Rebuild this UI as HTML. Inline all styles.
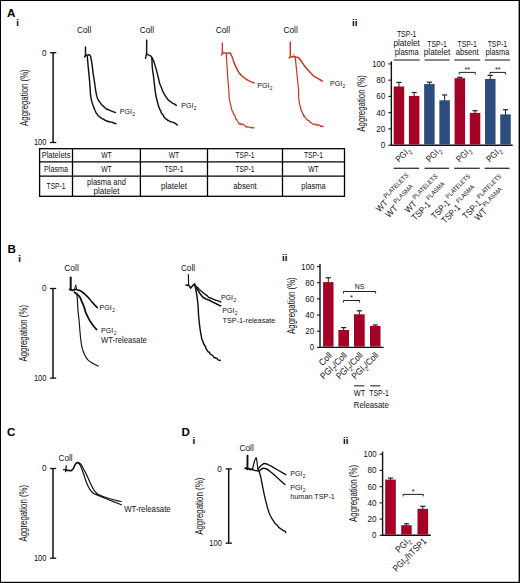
<!DOCTYPE html>
<html><head><meta charset="utf-8"><title>Figure</title>
<style>
html,body{margin:0;padding:0;background:#fff;}
body{width:520px;height:583px;overflow:hidden;}
svg{display:block;}
text{font-family:"Liberation Sans", sans-serif;}
</style></head>
<body>
<svg width="520" height="583" viewBox="0 0 520 583" font-family="Liberation Sans, sans-serif">
<rect width="520" height="583" fill="#fff"/>
<text x="7.0" y="16.9" font-size="11.6" text-anchor="start" font-weight="bold" fill="#000" >A</text>
<text x="16.2" y="26.0" font-size="9.6" text-anchor="start" font-weight="bold" fill="#000" >i</text>
<text x="352.0" y="25.8" font-size="9.6" text-anchor="start" font-weight="bold" fill="#000" >ii</text>
<text x="7.6" y="253.4" font-size="11.6" text-anchor="start" font-weight="bold" fill="#000" >B</text>
<text x="18.3" y="261.6" font-size="9.6" text-anchor="start" font-weight="bold" fill="#000" >i</text>
<text x="282.0" y="261.2" font-size="9.6" text-anchor="start" font-weight="bold" fill="#000" >ii</text>
<text x="7.0" y="435.8" font-size="11.6" text-anchor="start" font-weight="bold" fill="#000" >C</text>
<text x="181.6" y="435.8" font-size="11.6" text-anchor="start" font-weight="bold" fill="#000" >D</text>
<text x="192.6" y="444.3" font-size="9.6" text-anchor="start" font-weight="bold" fill="#000" >i</text>
<text x="343.0" y="443.9" font-size="9.6" text-anchor="start" font-weight="bold" fill="#000" >ii</text>
<line x1="53.1" y1="52.7" x2="53.1" y2="142.5" stroke="#111" stroke-width="1.5"/>
<line x1="50.1" y1="52.7" x2="56.300000000000004" y2="52.7" stroke="#111" stroke-width="1.3"/>
<line x1="50.1" y1="142.5" x2="56.300000000000004" y2="142.5" stroke="#111" stroke-width="1.3"/>
<text x="46.5" y="55.5" font-size="8.2" text-anchor="end" font-weight="normal" fill="#111" >0</text>
<text x="46.5" y="145.3" font-size="8.2" text-anchor="end" font-weight="normal" fill="#111" textLength="12.6" lengthAdjust="spacingAndGlyphs" >100</text>
<text x="0" y="0" font-size="10.0" text-anchor="middle" fill="#111" textLength="56.6" lengthAdjust="spacingAndGlyphs" transform="translate(27.6,97.6) rotate(-90)">Aggregation (%)</text>
<text x="76.9" y="32.7" font-size="8.2" text-anchor="start" font-weight="normal" fill="#111" textLength="14.4" lengthAdjust="spacingAndGlyphs" >Coll</text>
<text x="139.7" y="32.8" font-size="8.2" text-anchor="start" font-weight="normal" fill="#111" textLength="14.4" lengthAdjust="spacingAndGlyphs" >Coll</text>
<text x="215.7" y="33.2" font-size="8.2" text-anchor="start" font-weight="normal" fill="#111" textLength="14.4" lengthAdjust="spacingAndGlyphs" >Coll</text>
<text x="283.4" y="33.0" font-size="8.2" text-anchor="start" font-weight="normal" fill="#111" textLength="14.4" lengthAdjust="spacingAndGlyphs" >Coll</text>
<path d="M85.50,46.90 L85.50,55.80" fill="none" stroke="#111" stroke-width="1.45" stroke-linejoin="round" stroke-linecap="round" />
<path d="M84.60,57.00 L85.70,55.20 L89.40,54.80 L90.60,56.40" fill="none" stroke="#111" stroke-width="1.45" stroke-linejoin="round" stroke-linecap="round" />
<path d="M87.30,56.40 L87.39,57.50 L87.52,59.00 L87.68,60.78 L87.76,61.74 L87.84,62.74 L87.93,63.74 L88.02,64.75 L88.11,65.74 L88.20,66.70 L88.29,67.66 L88.39,68.66 L88.49,69.68 L88.59,70.73 L88.70,71.78 L88.81,72.85 L88.91,73.92 L89.02,74.97 L89.12,76.02 L89.22,77.04 L89.31,78.04 L89.40,79.00 L89.48,79.94 L89.56,80.87 L89.63,81.79 L89.70,82.69 L89.84,84.46 L89.96,86.16 L90.08,87.78 L90.20,89.30 L90.30,90.69 L90.37,91.94 L90.43,93.11 L90.51,94.25 L90.63,95.39 L90.80,96.60 L91.02,97.84 L91.26,99.08 L91.54,100.32 L91.87,101.60 L92.25,102.92 L92.70,104.30 L93.24,105.82 L93.86,107.49 L94.19,108.34 L94.53,109.19 L94.95,110.29 L95.54,111.56 L96.24,113.28 L97.01,113.87 L97.47,114.77 L98.09,115.62 L99.09,116.25 L99.95,117.08 L101.10,117.97 L102.00,118.54 L102.70,118.94 L103.54,118.98 L104.40,119.90 L105.57,120.50 L106.64,120.80 L107.75,121.49 L108.88,121.55 L109.99,121.97 L111.08,122.10 L112.02,122.29 L112.97,122.57 L114.00,123.25 L115.02,123.20 L115.74,123.83 L115.87,123.74" fill="none" stroke="#111" stroke-width="1.45" stroke-linejoin="round" stroke-linecap="round"/>
<path d="M90.60,56.80 L90.84,57.91 L91.05,58.92 L91.30,60.08 L91.55,61.36 L91.79,62.71 L92.00,64.12 L92.21,65.70 L92.41,67.42 L92.61,69.19 L92.80,70.92 L93.00,72.55 L93.20,73.99 L93.39,75.25 L93.58,76.40 L93.78,77.52 L93.98,78.69 L94.19,79.98 L94.41,81.48 L94.65,83.19 L94.77,84.10 L94.90,85.04 L95.03,85.98 L95.15,86.92 L95.28,87.85 L95.41,88.76 L95.67,90.44 L95.93,91.91 L96.18,93.25 L96.42,94.48 L96.68,95.62 L96.95,96.67 L97.24,97.64 L97.56,98.53 L98.09,99.63 L98.65,100.53 L99.26,101.39 L99.93,102.32 L100.65,103.30 L101.37,104.43 L102.31,105.29 L103.07,106.11 L103.93,106.68 L104.99,107.80 L105.91,108.67 L106.95,109.29 L108.17,109.52 L109.29,110.05 L110.50,110.65 L111.64,111.01 L112.84,111.70 L114.05,111.89 L115.06,112.44 L115.49,112.61" fill="none" stroke="#111" stroke-width="1.45" stroke-linejoin="round" stroke-linecap="round"/>
<text x="119.8" y="114.3" font-size="7.9" text-anchor="start" fill="#111" textLength="15.3" lengthAdjust="spacingAndGlyphs" >PGI<tspan font-size="5.5" dy="2.0" dx="0.4">2</tspan></text>
<path d="M146.70,40.10 L146.60,54.50" fill="none" stroke="#111" stroke-width="1.45" stroke-linejoin="round" stroke-linecap="round" />
<path d="M145.50,58.20 L146.50,53.90 L148.20,54.90 L151.10,56.20 L151.90,57.80" fill="none" stroke="#111" stroke-width="1.45" stroke-linejoin="round" stroke-linecap="round" />
<path d="M151.90,57.80 L151.93,58.84 L151.97,60.28 L152.03,61.99 L152.06,62.90 L152.09,63.82 L152.13,64.74 L152.24,66.50 L152.37,68.07 L152.55,69.63 L152.76,71.19 L152.99,72.72 L153.21,74.20 L153.41,75.62 L153.58,76.94 L153.71,78.10 L153.83,79.16 L153.94,80.20 L154.07,81.32 L154.21,82.58 L154.39,84.07 L154.57,85.75 L154.76,87.57 L154.87,88.51 L154.98,89.47 L155.10,90.44 L155.23,91.41 L155.37,92.39 L155.53,93.35 L155.70,94.30 L155.89,95.26 L156.09,96.24 L156.30,97.24 L156.53,98.25 L156.76,99.26 L157.01,100.27 L157.26,101.28 L157.52,102.26 L157.78,103.23 L158.05,104.16 L158.22,104.84 L158.75,106.96 L159.40,107.93 L160.04,110.10 L160.78,110.87 L161.23,112.74 L161.99,113.72 L162.52,114.23 L163.37,115.55 L163.91,116.89 L164.76,117.57 L165.31,118.34 L165.97,119.01 L166.98,119.43 L167.83,120.66 L168.54,120.52 L169.42,121.11 L170.18,121.46 L171.07,121.76 L172.07,122.08 L173.15,122.37 L174.11,122.78 L174.85,123.10 L175.61,123.59 L176.82,124.77 L177.42,125.18" fill="none" stroke="#111" stroke-width="1.45" stroke-linejoin="round" stroke-linecap="round"/>
<path d="M151.90,57.80 L152.43,58.62 L153.03,59.65 L153.50,60.70 L153.82,61.58 L154.17,62.60 L154.52,63.72 L154.89,64.90 L155.25,66.11 L155.60,67.30 L155.94,68.47 L156.27,69.66 L156.60,70.88 L156.93,72.11 L157.26,73.39 L157.60,74.70 L157.95,76.11 L158.30,77.63 L158.66,79.18 L159.02,80.69 L159.37,82.09 L159.70,83.30 L160.02,84.28 L160.46,85.45 L160.90,86.42 L161.34,87.42 L161.80,88.58 L162.23,89.77 L162.70,90.99 L163.07,91.83 L163.50,92.70 L164.01,93.64 L164.59,94.64 L165.22,95.67 L165.87,96.69 L166.54,97.64 L167.14,98.51 L167.87,99.46 L168.64,100.16 L169.32,100.85 L170.04,101.32 L170.95,101.69 L171.80,102.50 L172.80,103.33 L173.79,103.63 L174.64,104.21 L175.43,104.45 L176.25,105.57 L176.30,105.52" fill="none" stroke="#111" stroke-width="1.45" stroke-linejoin="round" stroke-linecap="round"/>
<text x="181.2" y="107.6" font-size="7.9" text-anchor="start" fill="#111" textLength="15.3" lengthAdjust="spacingAndGlyphs" >PGI<tspan font-size="5.5" dy="2.0" dx="0.4">2</tspan></text>
<path d="M222.3,42.6 L222.0,52.8 L222.7,52.8 Z" fill="#c8341f" stroke="#c8341f" stroke-width="0.9" stroke-linejoin="round"/>
<path d="M221.40,54.90 L222.80,52.90 L230.20,53.30" fill="none" stroke="#c8341f" stroke-width="1.45" stroke-linejoin="round" stroke-linecap="round" />
<path d="M226.30,53.70 L226.37,55.00 L226.47,56.77 L226.53,57.79 L226.59,58.88 L226.66,60.02 L226.73,61.19 L226.79,62.36 L226.86,63.54 L226.93,64.69 L227.00,65.80 L227.07,66.91 L227.14,68.05 L227.21,69.23 L227.29,70.43 L227.36,71.65 L227.44,72.86 L227.51,74.07 L227.59,75.27 L227.67,76.44 L227.75,77.57 L227.82,78.66 L227.90,79.70 L227.98,80.69 L228.06,81.66 L228.14,82.59 L228.22,83.50 L228.38,85.24 L228.54,86.89 L228.68,88.48 L228.80,90.00 L228.89,91.45 L228.94,92.82 L228.98,94.11 L229.03,95.35 L229.09,96.54 L229.20,97.70 L229.35,98.81 L229.53,99.85 L229.73,100.84 L229.95,101.82 L230.17,102.80 L230.40,103.80 L230.63,104.85 L230.86,105.92 L231.11,106.99 L231.30,108.78 L231.81,109.56 L231.96,110.66 L232.40,110.94 L232.74,111.31 L233.23,113.05 L233.74,114.45 L234.07,114.65 L234.96,115.96 L235.35,117.47 L235.89,119.22 L236.84,119.53 L237.30,120.68 L237.89,121.83 L238.39,122.32 L239.19,124.13 L240.17,123.43 L241.27,124.95 L241.97,123.89 L242.78,124.25 L243.83,124.74 L244.77,125.52 L245.91,126.98 L246.96,126.61 L247.75,127.13 L248.68,127.13 L249.47,127.27 L250.90,127.22 L251.78,128.15 L252.99,127.57 L253.69,127.70 L253.75,128.01" fill="none" stroke="#c8341f" stroke-width="1.2" stroke-linejoin="round" stroke-linecap="round"/>
<path d="M230.20,53.30 C230.50,53.83 231.38,55.03 232.00,56.50 C232.62,57.97 233.20,60.25 233.90,62.10 C234.60,63.95 235.28,65.75 236.20,67.60 C237.12,69.45 238.08,71.50 239.40,73.20 C240.72,74.90 242.40,76.48 244.10,77.80 C245.80,79.12 247.90,80.25 249.60,81.10 C251.30,81.95 253.52,82.60 254.30,82.90" fill="none" stroke="#c8341f" stroke-width="1.45" stroke-linejoin="round" stroke-linecap="round" />
<text x="257.2" y="87.9" font-size="7.9" text-anchor="start" fill="#111" textLength="15.3" lengthAdjust="spacingAndGlyphs" >PGI<tspan font-size="5.5" dy="2.0" dx="0.4">2</tspan></text>
<path d="M290.30,42.20 L290.30,56.50" fill="none" stroke="#c8341f" stroke-width="1.45" stroke-linejoin="round" stroke-linecap="round" />
<path d="M289.20,57.90 L290.60,56.50 L298.00,57.40" fill="none" stroke="#c8341f" stroke-width="1.45" stroke-linejoin="round" stroke-linecap="round" />
<path d="M292.80,56.80 L293.80,53.90 L294.80,56.80" fill="none" stroke="#c8341f" stroke-width="0.8" stroke-linejoin="round" stroke-linecap="round" stroke-opacity="0.6"/>
<path d="M295.20,56.50 L295.35,58.01 L295.45,59.00 L295.56,60.10 L295.68,61.31 L295.81,62.58 L295.95,63.90 L296.08,65.25 L296.22,66.60 L296.35,67.92 L296.48,69.20 L296.60,70.40 L296.72,71.58 L296.84,72.80 L296.97,74.04 L297.10,75.30 L297.22,76.56 L297.35,77.80 L297.47,79.02 L297.59,80.20 L297.71,81.33 L297.81,82.40 L297.91,83.39 L298.00,84.30 L298.15,85.82 L298.27,87.03 L298.38,88.03 L298.46,88.95 L298.53,89.90 L298.60,91.00 L298.64,92.23 L298.64,93.50 L298.64,94.79 L298.64,96.11 L298.69,97.45 L298.80,98.80 L298.98,100.19 L299.20,101.64 L299.47,103.10 L299.76,104.54 L300.08,105.92 L300.40,107.20 L300.81,109.01 L300.95,109.34 L301.36,111.20 L301.73,110.91 L302.10,112.34 L302.87,113.94 L303.22,114.97 L303.74,114.87 L303.87,116.50 L304.79,116.34 L305.47,117.83 L306.06,118.65 L306.69,118.97 L307.52,120.18 L308.69,120.57 L309.74,121.42 L310.25,122.76 L311.24,122.69 L311.73,123.18 L313.05,124.39 L314.10,124.08 L315.52,123.99 L316.46,125.41 L317.81,124.66 L318.42,124.92 L319.82,125.43 L320.79,126.55 L321.60,125.88 L323.03,126.61 L323.00,126.80" fill="none" stroke="#c8341f" stroke-width="1.2" stroke-linejoin="round" stroke-linecap="round"/>
<path d="M298.00,57.40 C298.45,57.87 299.63,58.80 300.70,60.20 C301.77,61.60 303.00,63.95 304.40,65.80 C305.80,67.65 307.55,69.60 309.10,71.30 C310.65,73.00 312.17,74.77 313.70,76.00 C315.23,77.23 316.83,77.85 318.30,78.70 C319.77,79.55 321.80,80.70 322.50,81.10" fill="none" stroke="#c8341f" stroke-width="1.45" stroke-linejoin="round" stroke-linecap="round" />
<text x="330.0" y="85.9" font-size="7.9" text-anchor="start" fill="#111" textLength="15.3" lengthAdjust="spacingAndGlyphs" >PGI<tspan font-size="5.5" dy="2.0" dx="0.4">2</tspan></text>
<rect x="39.6" y="148.7" width="304.9" height="47.60000000000002" fill="none" stroke="#000" stroke-width="1.3"/>
<line x1="72.5" y1="148.7" x2="72.5" y2="196.3" stroke="#000" stroke-width="1.3"/>
<line x1="140.4" y1="148.7" x2="140.4" y2="196.3" stroke="#000" stroke-width="1.3"/>
<line x1="207.5" y1="148.7" x2="207.5" y2="196.3" stroke="#000" stroke-width="1.3"/>
<line x1="282.5" y1="148.7" x2="282.5" y2="196.3" stroke="#000" stroke-width="1.3"/>
<line x1="39.6" y1="161.95" x2="344.5" y2="161.95" stroke="#000" stroke-width="1.3"/>
<line x1="39.6" y1="176.2" x2="344.5" y2="176.2" stroke="#000" stroke-width="1.3"/>
<text x="56.05" y="158.12" font-size="8.5" text-anchor="middle" font-weight="normal" fill="#111" textLength="28.8" lengthAdjust="spacingAndGlyphs" >Platelets</text>
<text x="56.05" y="171.88" font-size="8.5" text-anchor="middle" font-weight="normal" fill="#111" textLength="24.0" lengthAdjust="spacingAndGlyphs" >Plasma</text>
<text x="56.05" y="189.05" font-size="8.5" text-anchor="middle" font-weight="normal" fill="#111" textLength="19.0" lengthAdjust="spacingAndGlyphs" >TSP-1</text>
<text x="106.45" y="158.12" font-size="8.5" text-anchor="middle" font-weight="normal" fill="#111" textLength="10.5" lengthAdjust="spacingAndGlyphs" >WT</text>
<text x="173.95" y="158.12" font-size="8.5" text-anchor="middle" font-weight="normal" fill="#111" textLength="10.5" lengthAdjust="spacingAndGlyphs" >WT</text>
<text x="245.0" y="158.12" font-size="8.5" text-anchor="middle" font-weight="normal" fill="#111" textLength="19.0" lengthAdjust="spacingAndGlyphs" >TSP-1</text>
<text x="313.5" y="158.12" font-size="8.5" text-anchor="middle" font-weight="normal" fill="#111" textLength="19.0" lengthAdjust="spacingAndGlyphs" >TSP-1</text>
<text x="106.45" y="171.88" font-size="8.5" text-anchor="middle" font-weight="normal" fill="#111" textLength="10.5" lengthAdjust="spacingAndGlyphs" >WT</text>
<text x="173.95" y="171.88" font-size="8.5" text-anchor="middle" font-weight="normal" fill="#111" textLength="19.0" lengthAdjust="spacingAndGlyphs" >TSP-1</text>
<text x="245.0" y="171.88" font-size="8.5" text-anchor="middle" font-weight="normal" fill="#111" textLength="19.0" lengthAdjust="spacingAndGlyphs" >TSP-1</text>
<text x="313.5" y="171.88" font-size="8.5" text-anchor="middle" font-weight="normal" fill="#111" textLength="10.5" lengthAdjust="spacingAndGlyphs" >WT</text>
<text x="106.45" y="185.0" font-size="8.5" text-anchor="middle" font-weight="normal" fill="#111" textLength="38.8" lengthAdjust="spacingAndGlyphs" >plasma and</text>
<text x="106.45" y="193.6" font-size="8.5" text-anchor="middle" font-weight="normal" fill="#111" textLength="26.0" lengthAdjust="spacingAndGlyphs" >platelet</text>
<text x="173.95" y="188.55" font-size="8.5" text-anchor="middle" font-weight="normal" fill="#111" textLength="26.0" lengthAdjust="spacingAndGlyphs" >platelet</text>
<text x="245.0" y="188.55" font-size="8.5" text-anchor="middle" font-weight="normal" fill="#111" textLength="23.5" lengthAdjust="spacingAndGlyphs" >absent</text>
<text x="313.5" y="188.55" font-size="8.5" text-anchor="middle" font-weight="normal" fill="#111" textLength="24.5" lengthAdjust="spacingAndGlyphs" >plasma</text>
<line x1="391.35" y1="145.89999999999998" x2="391.35" y2="61.3" stroke="#111" stroke-width="1.4"/>
<line x1="390.65000000000003" y1="145.2" x2="512.7" y2="145.2" stroke="#111" stroke-width="1.4"/>
<line x1="388.35" y1="145.2" x2="391.35" y2="145.2" stroke="#111" stroke-width="1.1"/>
<text x="385.2" y="148.1" font-size="8.2" text-anchor="end" font-weight="normal" fill="#111" textLength="4.5" lengthAdjust="spacingAndGlyphs" >0</text>
<line x1="388.35" y1="128.94" x2="391.35" y2="128.94" stroke="#111" stroke-width="1.1"/>
<text x="385.2" y="131.84" font-size="8.2" text-anchor="end" font-weight="normal" fill="#111" textLength="9.0" lengthAdjust="spacingAndGlyphs" >20</text>
<line x1="388.35" y1="112.68" x2="391.35" y2="112.68" stroke="#111" stroke-width="1.1"/>
<text x="385.2" y="115.58000000000001" font-size="8.2" text-anchor="end" font-weight="normal" fill="#111" textLength="9.0" lengthAdjust="spacingAndGlyphs" >40</text>
<line x1="388.35" y1="96.41999999999999" x2="391.35" y2="96.41999999999999" stroke="#111" stroke-width="1.1"/>
<text x="385.2" y="99.32" font-size="8.2" text-anchor="end" font-weight="normal" fill="#111" textLength="9.0" lengthAdjust="spacingAndGlyphs" >60</text>
<line x1="388.35" y1="80.16000000000001" x2="391.35" y2="80.16000000000001" stroke="#111" stroke-width="1.1"/>
<text x="385.2" y="83.06000000000002" font-size="8.2" text-anchor="end" font-weight="normal" fill="#111" textLength="9.0" lengthAdjust="spacingAndGlyphs" >80</text>
<line x1="388.35" y1="63.900000000000006" x2="391.35" y2="63.900000000000006" stroke="#111" stroke-width="1.1"/>
<text x="385.2" y="66.80000000000001" font-size="8.2" text-anchor="end" font-weight="normal" fill="#111" textLength="13.0" lengthAdjust="spacingAndGlyphs" >100</text>
<text x="0" y="0" font-size="10.0" text-anchor="middle" fill="#111" textLength="56.6" lengthAdjust="spacingAndGlyphs" transform="translate(365.4,103.4) rotate(-90)">Aggregation (%)</text>
<rect x="393.70" y="86.50" width="10.50" height="58.00" fill="#a50026"/>
<line x1="398.95" y1="82.4" x2="398.95" y2="87.0" stroke="#222" stroke-width="1.0"/>
<line x1="396.34999999999997" y1="82.4" x2="401.55" y2="82.4" stroke="#222" stroke-width="1.2"/>
<rect x="408.92" y="95.90" width="10.50" height="48.60" fill="#a50026"/>
<line x1="414.17" y1="92.5" x2="414.17" y2="96.4" stroke="#222" stroke-width="1.0"/>
<line x1="411.57" y1="92.5" x2="416.77000000000004" y2="92.5" stroke="#222" stroke-width="1.2"/>
<rect x="424.14" y="84.10" width="10.50" height="60.40" fill="#2e4b7d"/>
<line x1="429.39" y1="82.2" x2="429.39" y2="84.6" stroke="#222" stroke-width="1.0"/>
<line x1="426.78999999999996" y1="82.2" x2="431.99" y2="82.2" stroke="#222" stroke-width="1.2"/>
<rect x="439.36" y="100.30" width="10.50" height="44.20" fill="#2e4b7d"/>
<line x1="444.61" y1="95.0" x2="444.61" y2="100.8" stroke="#222" stroke-width="1.0"/>
<line x1="442.01" y1="95.0" x2="447.21000000000004" y2="95.0" stroke="#222" stroke-width="1.2"/>
<rect x="454.58" y="78.20" width="10.50" height="66.30" fill="#a50026"/>
<line x1="459.83" y1="77.3" x2="459.83" y2="78.7" stroke="#222" stroke-width="1.0"/>
<line x1="457.22999999999996" y1="77.3" x2="462.43" y2="77.3" stroke="#222" stroke-width="1.2"/>
<rect x="469.80" y="112.90" width="10.50" height="31.60" fill="#a50026"/>
<line x1="475.05" y1="110.7" x2="475.05" y2="113.4" stroke="#222" stroke-width="1.0"/>
<line x1="472.45" y1="110.7" x2="477.65000000000003" y2="110.7" stroke="#222" stroke-width="1.2"/>
<rect x="485.02" y="79.00" width="10.50" height="65.50" fill="#2e4b7d"/>
<line x1="490.27" y1="75.4" x2="490.27" y2="79.5" stroke="#222" stroke-width="1.0"/>
<line x1="487.66999999999996" y1="75.4" x2="492.87" y2="75.4" stroke="#222" stroke-width="1.2"/>
<rect x="500.24" y="114.40" width="10.50" height="30.10" fill="#2e4b7d"/>
<line x1="505.49" y1="109.7" x2="505.49" y2="114.9" stroke="#222" stroke-width="1.0"/>
<line x1="502.89" y1="109.7" x2="508.09000000000003" y2="109.7" stroke="#222" stroke-width="1.2"/>
<line x1="393.7" y1="60.0" x2="419.6" y2="60.0" stroke="#555" stroke-width="1.4"/>
<line x1="424.5" y1="60.0" x2="449.6" y2="60.0" stroke="#555" stroke-width="1.4"/>
<line x1="454.2" y1="60.0" x2="480.2" y2="60.0" stroke="#555" stroke-width="1.4"/>
<line x1="484.7" y1="60.0" x2="510.1" y2="60.0" stroke="#555" stroke-width="1.4"/>
<text x="406.65" y="36.6" font-size="8.2" text-anchor="middle" font-weight="normal" fill="#111" textLength="19.5" lengthAdjust="spacingAndGlyphs" >TSP-1</text>
<text x="406.65" y="46.3" font-size="8.5" text-anchor="middle" font-weight="normal" fill="#111" textLength="26.5" lengthAdjust="spacingAndGlyphs" >platelet</text>
<text x="406.65" y="54.9" font-size="8.5" text-anchor="middle" font-weight="normal" fill="#111" textLength="24.0" lengthAdjust="spacingAndGlyphs" >plasma</text>
<text x="437.05" y="46.8" font-size="8.2" text-anchor="middle" font-weight="normal" fill="#111" textLength="19.5" lengthAdjust="spacingAndGlyphs" >TSP-1</text>
<text x="437.05" y="55.3" font-size="8.5" text-anchor="middle" font-weight="normal" fill="#111" textLength="26.5" lengthAdjust="spacingAndGlyphs" >platelet</text>
<text x="467.2" y="46.8" font-size="8.2" text-anchor="middle" font-weight="normal" fill="#111" textLength="19.5" lengthAdjust="spacingAndGlyphs" >TSP-1</text>
<text x="467.2" y="55.3" font-size="8.5" text-anchor="middle" font-weight="normal" fill="#111" textLength="23.0" lengthAdjust="spacingAndGlyphs" >absent</text>
<text x="497.4" y="46.8" font-size="8.2" text-anchor="middle" font-weight="normal" fill="#111" textLength="19.5" lengthAdjust="spacingAndGlyphs" >TSP-1</text>
<text x="497.4" y="55.3" font-size="8.5" text-anchor="middle" font-weight="normal" fill="#111" textLength="24.0" lengthAdjust="spacingAndGlyphs" >plasma</text>
<path d="M459.2,74.4 L459.2,72.4 L475.3,72.4 L475.3,74.4" fill="none" stroke="#222" stroke-width="1"/>
<text x="467.25" y="71.5" font-size="7.5" text-anchor="middle" font-weight="normal" fill="#111" textLength="5.6" lengthAdjust="spacingAndGlyphs" >**</text>
<path d="M490.0,74.4 L490.0,72.4 L505.5,72.4 L505.5,74.4" fill="none" stroke="#222" stroke-width="1"/>
<text x="497.75" y="71.5" font-size="7.5" text-anchor="middle" font-weight="normal" fill="#111" textLength="5.6" lengthAdjust="spacingAndGlyphs" >**</text>
<text x="0" y="0" font-size="9.0" text-anchor="end" fill="#111" textLength="17.0" lengthAdjust="spacingAndGlyphs" transform="translate(411.25,151.0) rotate(-44)">PGI<tspan font-size="6.2" dy="2.4" dx="0.3">2</tspan></text>
<text x="0" y="0" font-size="9.0" text-anchor="end" fill="#111" textLength="17.0" lengthAdjust="spacingAndGlyphs" transform="translate(441.65,151.0) rotate(-44)">PGI<tspan font-size="6.2" dy="2.4" dx="0.3">2</tspan></text>
<text x="0" y="0" font-size="9.0" text-anchor="end" fill="#111" textLength="17.0" lengthAdjust="spacingAndGlyphs" transform="translate(471.80,151.0) rotate(-44)">PGI<tspan font-size="6.2" dy="2.4" dx="0.3">2</tspan></text>
<text x="0" y="0" font-size="9.0" text-anchor="end" fill="#111" textLength="17.0" lengthAdjust="spacingAndGlyphs" transform="translate(502.00,151.0) rotate(-44)">PGI<tspan font-size="6.2" dy="2.4" dx="0.3">2</tspan></text>
<line x1="393.7" y1="168.3" x2="419.1" y2="168.3" stroke="#333" stroke-width="1.3"/>
<line x1="424.5" y1="168.3" x2="449.1" y2="168.3" stroke="#333" stroke-width="1.3"/>
<line x1="454.2" y1="168.3" x2="479.7" y2="168.3" stroke="#333" stroke-width="1.3"/>
<line x1="484.7" y1="168.3" x2="509.6" y2="168.3" stroke="#333" stroke-width="1.3"/>
<text x="0" y="0" font-size="9.0" text-anchor="middle" fill="#111" textLength="47.0" lengthAdjust="spacingAndGlyphs" transform="translate(396.03,195.81) rotate(-45)">WT<tspan font-size="6.4" dy="-5.0"> PLATELETS</tspan></text>
<text x="0" y="0" font-size="9.0" text-anchor="middle" fill="#111" textLength="39.5" lengthAdjust="spacingAndGlyphs" transform="translate(403.03,204.21) rotate(-45)">WT<tspan font-size="6.4" dy="-5.0"> PLASMA</tspan></text>
<text x="0" y="0" font-size="9.0" text-anchor="middle" fill="#111" textLength="47.0" lengthAdjust="spacingAndGlyphs" transform="translate(424.93,196.81) rotate(-45)">WT<tspan font-size="6.4" dy="-5.0"> PLATELETS</tspan></text>
<text x="0" y="0" font-size="9.0" text-anchor="middle" fill="#111" textLength="47.0" lengthAdjust="spacingAndGlyphs" transform="translate(431.83,204.46) rotate(-45)">TSP-1<tspan font-size="6.4" dy="-5.0"> PLASMA</tspan></text>
<text x="0" y="0" font-size="9.0" text-anchor="middle" fill="#111" textLength="55.5" lengthAdjust="spacingAndGlyphs" transform="translate(454.48,199.81) rotate(-45)">TSP-1<tspan font-size="6.4" dy="-5.0"> PLATELETS</tspan></text>
<text x="0" y="0" font-size="9.0" text-anchor="middle" fill="#111" textLength="47.0" lengthAdjust="spacingAndGlyphs" transform="translate(461.63,207.41) rotate(-45)">TSP-1<tspan font-size="6.4" dy="-5.0"> PLASMA</tspan></text>
<text x="0" y="0" font-size="9.0" text-anchor="middle" fill="#111" textLength="55.5" lengthAdjust="spacingAndGlyphs" transform="translate(485.63,199.81) rotate(-45)">TSP-1<tspan font-size="6.4" dy="-5.0"> PLATELETS</tspan></text>
<text x="0" y="0" font-size="9.0" text-anchor="middle" fill="#111" textLength="39.5" lengthAdjust="spacingAndGlyphs" transform="translate(491.93,207.16) rotate(-45)">WT<tspan font-size="6.4" dy="-5.0"> PLASMA</tspan></text>
<line x1="53.0" y1="288.5" x2="53.0" y2="378.1" stroke="#111" stroke-width="1.5"/>
<line x1="50.0" y1="288.5" x2="56.2" y2="288.5" stroke="#111" stroke-width="1.3"/>
<line x1="50.0" y1="378.1" x2="56.2" y2="378.1" stroke="#111" stroke-width="1.3"/>
<text x="46.5" y="291.3" font-size="8.2" text-anchor="end" font-weight="normal" fill="#111" >0</text>
<text x="46.5" y="380.90000000000003" font-size="8.2" text-anchor="end" font-weight="normal" fill="#111" textLength="12.6" lengthAdjust="spacingAndGlyphs" >100</text>
<text x="0" y="0" font-size="10.0" text-anchor="middle" fill="#111" textLength="56.6" lengthAdjust="spacingAndGlyphs" transform="translate(27.4,333.25) rotate(-90)">Aggregation (%)</text>
<text x="64.3" y="271.2" font-size="8.2" text-anchor="start" font-weight="normal" fill="#111" textLength="14.5" lengthAdjust="spacingAndGlyphs" >Coll</text>
<text x="180.9" y="271.3" font-size="8.2" text-anchor="start" font-weight="normal" fill="#111" textLength="14.2" lengthAdjust="spacingAndGlyphs" >Coll</text>
<path d="M70.70,277.60 L70.70,289.40" fill="none" stroke="#111" stroke-width="2.0" stroke-linejoin="round" stroke-linecap="round" />
<path d="M69.60,289.40 L72.50,290.30 L74.50,289.70" fill="none" stroke="#111" stroke-width="1.8" stroke-linejoin="round" stroke-linecap="round" />
<path d="M74.50,289.50 L75.70,284.80 L76.50,289.00" fill="none" stroke="#111" stroke-width="1.0" stroke-linejoin="round" stroke-linecap="round" />
<path d="M75.20,289.40 C75.85,289.55 77.92,289.87 79.10,290.30 C80.28,290.73 81.22,291.23 82.30,292.00 C83.38,292.77 84.50,293.87 85.60,294.90 C86.70,295.93 87.82,297.00 88.90,298.20 C89.98,299.40 90.68,300.52 92.10,302.10 C93.52,303.68 96.52,306.77 97.40,307.70" fill="none" stroke="#111" stroke-width="1.6" stroke-linejoin="round" stroke-linecap="round" />
<path d="M74.50,292.30 C75.05,292.73 76.87,294.03 77.80,294.90 C78.73,295.77 79.40,296.30 80.10,297.50 C80.80,298.70 81.35,300.57 82.00,302.10 C82.65,303.63 83.35,304.92 84.00,306.70 C84.65,308.48 84.93,310.48 85.90,312.80 C86.87,315.12 88.50,318.37 89.80,320.60 C91.10,322.83 92.58,324.72 93.70,326.20 C94.82,327.68 96.03,328.95 96.50,329.50" fill="none" stroke="#111" stroke-width="1.8" stroke-linejoin="round" stroke-linecap="round" />
<path d="M76.80,293.60 C76.90,294.68 77.18,297.10 77.40,300.10 C77.62,303.10 77.80,308.00 78.10,311.60 C78.40,315.20 78.82,317.60 79.20,321.70 C79.58,325.80 79.93,331.92 80.40,336.20 C80.87,340.48 81.35,344.42 82.00,347.40 C82.65,350.38 83.37,352.07 84.30,354.10 C85.23,356.13 86.30,358.12 87.60,359.60 C88.90,361.08 90.33,361.92 92.10,363.00 C93.87,364.08 97.18,365.58 98.20,366.10" fill="none" stroke="#111" stroke-width="1.15" stroke-linejoin="round" stroke-linecap="round" />
<text x="99.6" y="309.7" font-size="7.9" text-anchor="start" fill="#111" textLength="15.3" lengthAdjust="spacingAndGlyphs" >PGI<tspan font-size="5.5" dy="2.0" dx="0.4">2</tspan></text>
<text x="101.1" y="333.1" font-size="7.9" text-anchor="start" fill="#111" textLength="15.3" lengthAdjust="spacingAndGlyphs" >PGI<tspan font-size="5.5" dy="2.0" dx="0.4">2</tspan></text>
<text x="101.1" y="342.6" font-size="8.2" text-anchor="start" font-weight="normal" fill="#111" textLength="45.7" lengthAdjust="spacingAndGlyphs" >WT-releasate</text>
<path d="M188.40,274.50 L188.60,285.00" fill="none" stroke="#111" stroke-width="1.15" stroke-linejoin="round" stroke-linecap="round" />
<path d="M186.10,285.00 L188.80,285.40 L190.70,288.10 L192.20,286.20 L194.50,283.80 L195.30,286.20" fill="none" stroke="#111" stroke-width="1.6" stroke-linejoin="round" stroke-linecap="round" />
<path d="M195.27,285.39 L196.05,286.45 L196.95,287.16 L197.82,287.71 L198.60,288.81 L199.57,289.86 L200.27,290.22 L201.04,291.00 L201.88,291.49 L202.62,292.39 L203.39,293.02 L204.13,293.41 L204.86,294.04 L205.68,294.50 L206.33,295.45 L207.10,295.70 L207.85,296.51 L208.73,297.28 L209.72,297.80 L210.61,297.84 L211.62,298.52 L212.77,298.95 L213.75,299.36 L214.83,299.89 L215.83,300.37 L216.85,300.39 L217.92,300.84 L218.88,301.22 L219.78,301.43 L220.66,301.77 L220.65,302.09" fill="none" stroke="#111" stroke-width="1.4" stroke-linejoin="round" stroke-linecap="round"/>
<path d="M195.32,286.38 L195.98,287.91 L196.66,288.36 L197.45,289.75 L198.24,290.49 L198.86,292.05 L199.59,293.04 L200.02,293.52 L200.63,294.34 L201.41,295.48 L202.03,296.14 L202.70,296.93 L203.34,297.80 L204.33,297.86 L205.16,298.67 L206.01,298.90 L206.94,299.17 L207.89,299.85 L208.88,300.02 L209.61,300.54 L210.61,300.88 L211.40,301.34 L212.41,302.03 L213.21,302.18 L214.32,302.99 L215.61,303.23 L216.85,304.26 L218.22,304.56 L219.38,305.55 L220.32,305.70 L220.67,305.74" fill="none" stroke="#111" stroke-width="1.6" stroke-linejoin="round" stroke-linecap="round"/>
<path d="M195.30,286.90 L195.47,287.81 L195.70,289.06 L195.97,290.55 L196.27,292.17 L196.55,293.82 L196.80,295.40 L197.02,296.91 L197.24,298.44 L197.45,300.00 L197.65,301.60 L197.83,303.27 L198.00,305.00 L198.13,306.80 L198.19,307.71 L198.23,308.64 L198.28,309.58 L198.32,310.54 L198.36,311.52 L198.41,312.51 L198.47,313.53 L198.53,314.56 L198.61,315.62 L198.70,316.70 L198.81,317.82 L198.92,319.01 L199.04,320.23 L199.17,321.49 L199.31,322.77 L199.46,324.06 L199.61,325.34 L199.76,326.60 L199.92,327.83 L200.08,329.01 L200.24,330.14 L200.40,331.20 L200.56,332.20 L200.73,333.17 L200.89,334.09 L201.06,334.99 L201.40,336.69 L201.63,338.19 L202.02,339.71 L202.60,340.65 L203.11,342.01 L203.64,344.01 L204.07,344.22 L204.63,345.64 L205.40,346.38 L206.03,348.50 L206.74,349.43 L207.38,350.83 L208.38,352.00 L209.43,352.21 L210.27,354.19 L210.84,354.42 L211.86,354.96 L212.64,355.75 L213.32,356.15 L214.28,357.82 L215.29,357.72 L216.26,358.24 L217.04,358.52 L218.05,359.84 L219.15,360.15 L220.04,360.44 L220.26,360.24" fill="none" stroke="#111" stroke-width="1.45" stroke-linejoin="round" stroke-linecap="round"/>
<text x="220.9" y="300.0" font-size="7.9" text-anchor="start" fill="#111" textLength="15.3" lengthAdjust="spacingAndGlyphs" >PGI<tspan font-size="5.5" dy="2.0" dx="0.4">2</tspan></text>
<text x="222.3" y="313.3" font-size="7.9" text-anchor="start" fill="#111" textLength="15.3" lengthAdjust="spacingAndGlyphs" >PGI<tspan font-size="5.5" dy="2.0" dx="0.4">2</tspan></text>
<text x="222.5" y="323.2" font-size="7.9" text-anchor="start" font-weight="normal" fill="#111" textLength="52.9" lengthAdjust="spacingAndGlyphs" >TSP-1-releasate</text>
<line x1="320.0" y1="348.09999999999997" x2="320.0" y2="264.0" stroke="#111" stroke-width="1.4"/>
<line x1="319.3" y1="347.4" x2="383.7" y2="347.4" stroke="#111" stroke-width="1.4"/>
<line x1="317.0" y1="347.4" x2="320.0" y2="347.4" stroke="#111" stroke-width="1.1"/>
<text x="314.3" y="350.29999999999995" font-size="8.2" text-anchor="end" font-weight="normal" fill="#111" textLength="4.5" lengthAdjust="spacingAndGlyphs" >0</text>
<line x1="317.0" y1="331.24" x2="320.0" y2="331.24" stroke="#111" stroke-width="1.1"/>
<text x="314.3" y="334.14" font-size="8.2" text-anchor="end" font-weight="normal" fill="#111" textLength="9.0" lengthAdjust="spacingAndGlyphs" >20</text>
<line x1="317.0" y1="315.08" x2="320.0" y2="315.08" stroke="#111" stroke-width="1.1"/>
<text x="314.3" y="317.97999999999996" font-size="8.2" text-anchor="end" font-weight="normal" fill="#111" textLength="9.0" lengthAdjust="spacingAndGlyphs" >40</text>
<line x1="317.0" y1="298.92" x2="320.0" y2="298.92" stroke="#111" stroke-width="1.1"/>
<text x="314.3" y="301.82" font-size="8.2" text-anchor="end" font-weight="normal" fill="#111" textLength="9.0" lengthAdjust="spacingAndGlyphs" >60</text>
<line x1="317.0" y1="282.76" x2="320.0" y2="282.76" stroke="#111" stroke-width="1.1"/>
<text x="314.3" y="285.65999999999997" font-size="8.2" text-anchor="end" font-weight="normal" fill="#111" textLength="9.0" lengthAdjust="spacingAndGlyphs" >80</text>
<line x1="317.0" y1="266.6" x2="320.0" y2="266.6" stroke="#111" stroke-width="1.1"/>
<text x="314.3" y="269.5" font-size="8.2" text-anchor="end" font-weight="normal" fill="#111" textLength="13.0" lengthAdjust="spacingAndGlyphs" >100</text>
<text x="0" y="0" font-size="10.0" text-anchor="middle" fill="#111" textLength="56.6" lengthAdjust="spacingAndGlyphs" transform="translate(294.6,305.6) rotate(-90)">Aggregation (%)</text>
<rect x="323.10" y="282.10" width="10.40" height="64.60" fill="#a50026"/>
<line x1="328.3" y1="277.8" x2="328.3" y2="282.6" stroke="#222" stroke-width="1.0"/>
<line x1="325.7" y1="277.8" x2="330.90000000000003" y2="277.8" stroke="#222" stroke-width="1.2"/>
<rect x="338.40" y="330.00" width="10.60" height="16.70" fill="#a50026"/>
<line x1="343.7" y1="327.6" x2="343.7" y2="330.5" stroke="#222" stroke-width="1.0"/>
<line x1="341.09999999999997" y1="327.6" x2="346.3" y2="327.6" stroke="#222" stroke-width="1.2"/>
<rect x="354.00" y="314.30" width="10.70" height="32.40" fill="#a50026"/>
<line x1="359.35" y1="310.8" x2="359.35" y2="314.8" stroke="#222" stroke-width="1.0"/>
<line x1="356.75" y1="310.8" x2="361.95000000000005" y2="310.8" stroke="#222" stroke-width="1.2"/>
<rect x="370.00" y="326.00" width="10.50" height="20.70" fill="#a50026"/>
<line x1="375.25" y1="325.0" x2="375.25" y2="326.5" stroke="#222" stroke-width="1.0"/>
<line x1="372.65" y1="325.0" x2="377.85" y2="325.0" stroke="#222" stroke-width="1.2"/>
<path d="M343.5,293.5 L343.5,291.5 L375.6,291.5 L375.6,293.5" fill="none" stroke="#222" stroke-width="1"/>
<text x="359.55" y="288.9" font-size="8.0" text-anchor="middle" font-weight="normal" fill="#111" textLength="9.8" lengthAdjust="spacingAndGlyphs" >NS</text>
<path d="M343.5,302.5 L343.5,300.5 L359.6,300.5 L359.6,302.5" fill="none" stroke="#222" stroke-width="1"/>
<text x="351.55" y="299.9" font-size="7.5" text-anchor="middle" font-weight="normal" fill="#111" >*</text>
<text x="0" y="0" font-size="9.2" text-anchor="end" fill="#111" textLength="14.4" lengthAdjust="spacingAndGlyphs" transform="translate(332.6,356.0) rotate(-45)">Coll</text>
<text x="0" y="0" font-size="9.2" text-anchor="end" fill="#111" textLength="33.6" lengthAdjust="spacingAndGlyphs" transform="translate(347.60,356.0) rotate(-45)">PGI<tspan font-size="6.3" dy="2.4">2</tspan><tspan dy="-2.4">/Coll</tspan></text>
<text x="0" y="0" font-size="9.2" text-anchor="end" fill="#111" textLength="33.6" lengthAdjust="spacingAndGlyphs" transform="translate(363.40,356.0) rotate(-45)">PGI<tspan font-size="6.3" dy="2.4">2</tspan><tspan dy="-2.4">/Coll</tspan></text>
<text x="0" y="0" font-size="9.2" text-anchor="end" fill="#111" textLength="33.6" lengthAdjust="spacingAndGlyphs" transform="translate(379.10,356.0) rotate(-45)">PGI<tspan font-size="6.3" dy="2.4">2</tspan><tspan dy="-2.4">/Coll</tspan></text>
<line x1="354.2" y1="385.8" x2="364.4" y2="385.8" stroke="#555" stroke-width="1.4"/>
<line x1="370.2" y1="385.8" x2="380.4" y2="385.8" stroke="#555" stroke-width="1.4"/>
<text x="353.8" y="396.2" font-size="8.7" text-anchor="start" font-weight="normal" fill="#111" textLength="11.4" lengthAdjust="spacingAndGlyphs" >WT</text>
<text x="369.2" y="396.2" font-size="8.7" text-anchor="start" font-weight="normal" fill="#111" textLength="19.6" lengthAdjust="spacingAndGlyphs" >TSP-1</text>
<text x="353.8" y="408.3" font-size="8.2" text-anchor="start" font-weight="normal" fill="#111" textLength="35.0" lengthAdjust="spacingAndGlyphs" >Releasate</text>
<line x1="53.0" y1="468.5" x2="53.0" y2="558.2" stroke="#111" stroke-width="1.5"/>
<line x1="50.0" y1="468.5" x2="56.2" y2="468.5" stroke="#111" stroke-width="1.3"/>
<line x1="50.0" y1="558.2" x2="56.2" y2="558.2" stroke="#111" stroke-width="1.3"/>
<text x="46.5" y="471.3" font-size="8.2" text-anchor="end" font-weight="normal" fill="#111" >0</text>
<text x="46.5" y="561.0" font-size="8.2" text-anchor="end" font-weight="normal" fill="#111" textLength="12.6" lengthAdjust="spacingAndGlyphs" >100</text>
<text x="0" y="0" font-size="10.0" text-anchor="middle" fill="#111" textLength="56.6" lengthAdjust="spacingAndGlyphs" transform="translate(27.4,513.2) rotate(-90)">Aggregation (%)</text>
<text x="58.5" y="461.2" font-size="8.2" text-anchor="start" font-weight="normal" fill="#111" textLength="14.1" lengthAdjust="spacingAndGlyphs" >Coll</text>
<path d="M66.20,465.80 L65.60,471.60" fill="none" stroke="#111" stroke-width="1.3" stroke-linejoin="round" stroke-linecap="round" />
<path d="M63.50,469.70 L65.80,469.90" fill="none" stroke="#111" stroke-width="1.2" stroke-linejoin="round" stroke-linecap="round" />
<path d="M65.80,470.00 C66.25,470.08 67.55,470.43 68.50,470.50 C69.45,470.57 70.70,470.73 71.50,470.40 C72.30,470.07 72.75,469.35 73.30,468.50 C73.85,467.65 74.30,466.18 74.80,465.30 C75.30,464.42 75.83,463.65 76.30,463.20 C76.77,462.75 77.08,462.60 77.60,462.60 C78.12,462.60 79.10,463.10 79.40,463.20" fill="none" stroke="#111" stroke-width="1.6" stroke-linejoin="round" stroke-linecap="round" />
<path d="M78.10,462.30 C78.42,462.75 79.37,463.85 80.00,465.00 C80.63,466.15 81.27,467.62 81.90,469.20 C82.53,470.78 83.15,472.57 83.80,474.50 C84.45,476.43 85.10,478.88 85.80,480.80 C86.50,482.72 87.20,484.40 88.00,486.00 C88.80,487.60 89.72,489.20 90.60,490.40 C91.48,491.60 92.35,492.50 93.30,493.20 C94.25,493.90 94.93,494.00 96.30,494.60 C97.67,495.20 99.73,496.07 101.50,496.80 C103.27,497.53 104.82,498.15 106.90,499.00 C108.98,499.85 111.60,500.93 114.00,501.90 C116.40,502.87 120.08,504.32 121.30,504.80" fill="none" stroke="#111" stroke-width="1.2" stroke-linejoin="round" stroke-linecap="round" />
<path d="M79.80,463.60 C80.00,463.73 80.33,463.42 81.00,464.40 C81.67,465.38 82.85,467.73 83.80,469.50 C84.75,471.27 85.73,473.00 86.70,475.00 C87.67,477.00 88.63,479.42 89.60,481.50 C90.57,483.58 91.55,485.78 92.50,487.50 C93.45,489.22 94.33,490.62 95.30,491.80 C96.27,492.98 96.77,493.73 98.30,494.60 C99.83,495.47 102.42,496.27 104.50,497.00 C106.58,497.73 108.88,498.45 110.80,499.00 C112.72,499.55 114.25,499.88 116.00,500.30 C117.75,500.72 120.42,501.30 121.30,501.50" fill="none" stroke="#111" stroke-width="1.2" stroke-linejoin="round" stroke-linecap="round" />
<text x="124.2" y="512.0" font-size="8.2" text-anchor="start" font-weight="normal" fill="#111" textLength="46.5" lengthAdjust="spacingAndGlyphs" >WT-releasate</text>
<line x1="228.7" y1="468.9" x2="228.7" y2="543.2" stroke="#111" stroke-width="1.5"/>
<line x1="225.7" y1="468.9" x2="231.89999999999998" y2="468.9" stroke="#111" stroke-width="1.3"/>
<line x1="225.7" y1="543.2" x2="231.89999999999998" y2="543.2" stroke="#111" stroke-width="1.3"/>
<text x="221.9" y="471.7" font-size="8.2" text-anchor="end" font-weight="normal" fill="#111" >0</text>
<text x="221.9" y="546.0" font-size="8.2" text-anchor="end" font-weight="normal" fill="#111" textLength="12.6" lengthAdjust="spacingAndGlyphs" >100</text>
<text x="0" y="0" font-size="10.0" text-anchor="middle" fill="#111" textLength="57.1" lengthAdjust="spacingAndGlyphs" transform="translate(202.8,506.25) rotate(-90)">Aggregation (%)</text>
<text x="239.4" y="450.9" font-size="8.2" text-anchor="start" font-weight="normal" fill="#111" textLength="14.4" lengthAdjust="spacingAndGlyphs" >Coll</text>
<path d="M247.50,455.70 L247.40,469.20" fill="none" stroke="#111" stroke-width="1.9" stroke-linejoin="round" stroke-linecap="round" />
<path d="M245.30,468.30 L248.50,468.60 L250.50,469.60 L252.50,469.00" fill="none" stroke="#111" stroke-width="2.0" stroke-linejoin="round" stroke-linecap="round" />
<path d="M252.50,469.00 C252.80,467.83 253.70,463.92 254.30,462.00 C254.90,460.08 255.65,457.50 256.10,457.50 C256.55,457.50 256.70,460.05 257.00,462.00 C257.30,463.95 257.75,468.00 257.90,469.20" fill="none" stroke="#111" stroke-width="1.2" stroke-linejoin="round" stroke-linecap="round" />
<path d="M257.90,469.20 C258.33,468.70 259.45,467.15 260.50,466.20 C261.55,465.25 262.87,463.73 264.20,463.50 C265.53,463.27 267.00,464.15 268.50,464.80 C270.00,465.45 271.37,466.37 273.20,467.40 C275.03,468.43 277.40,469.80 279.50,471.00 C281.60,472.20 284.75,474.00 285.80,474.60" fill="none" stroke="#111" stroke-width="1.4" stroke-linejoin="round" stroke-linecap="round" />
<path d="M252.50,469.60 C253.00,469.77 254.45,470.37 255.50,470.60 C256.55,470.83 257.88,471.18 258.80,471.00 C259.72,470.82 260.25,469.95 261.00,469.50 C261.75,469.05 262.38,468.38 263.30,468.30 C264.22,468.22 265.45,468.55 266.50,469.00 C267.55,469.45 267.85,469.58 269.60,471.00 C271.35,472.42 274.45,475.25 277.00,477.50 C279.55,479.75 283.58,483.33 284.90,484.50" fill="none" stroke="#111" stroke-width="1.4" stroke-linejoin="round" stroke-linecap="round" />
<path d="M258.60,470.20 L258.93,471.07 L259.27,471.99 L259.61,472.93 L259.95,473.94 L260.22,474.81 L260.50,475.96 L260.71,476.91 L260.96,478.13 L261.23,479.54 L261.53,481.07 L261.84,482.66 L262.15,484.24 L262.45,485.76 L262.76,487.34 L263.08,488.95 L263.41,490.57 L263.73,492.16 L264.04,493.68 L264.35,495.10 L264.66,496.45 L264.96,497.73 L265.26,498.98 L265.55,500.20 L265.85,501.40 L266.15,502.59 L266.43,503.76 L266.71,504.90 L267.00,506.01 L267.30,507.13 L267.63,508.24 L267.98,509.37 L268.37,510.52 L268.77,511.68 L269.19,512.83 L269.63,513.94 L270.08,515.00 L270.53,515.98 L270.99,516.91 L271.47,517.79 L271.96,518.63 L272.45,519.44 L272.95,520.22 L273.45,520.97 L274.28,522.22 L274.87,523.32 L275.83,523.96 L276.62,524.86 L277.29,525.44 L278.09,526.19 L278.92,527.52 L279.82,528.31 L280.65,528.48 L281.45,529.21 L282.34,529.85 L283.01,530.51 L284.04,530.77 L284.87,531.20 L285.60,531.99 L285.86,532.66" fill="none" stroke="#111" stroke-width="1.35" stroke-linejoin="round" stroke-linecap="round"/>
<text x="290.3" y="476.3" font-size="7.9" text-anchor="start" fill="#111" textLength="15.3" lengthAdjust="spacingAndGlyphs" >PGI<tspan font-size="5.5" dy="2.0" dx="0.4">2</tspan></text>
<text x="290.3" y="490.2" font-size="7.9" text-anchor="start" fill="#111" textLength="15.3" lengthAdjust="spacingAndGlyphs" >PGI<tspan font-size="5.5" dy="2.0" dx="0.4">2</tspan></text>
<text x="290.3" y="499.2" font-size="7.9" text-anchor="start" font-weight="normal" fill="#111" textLength="44.6" lengthAdjust="spacingAndGlyphs" >human TSP-1</text>
<line x1="382.6" y1="536.0" x2="382.6" y2="451.59999999999997" stroke="#111" stroke-width="1.4"/>
<line x1="381.90000000000003" y1="535.3" x2="430.8" y2="535.3" stroke="#111" stroke-width="1.4"/>
<line x1="379.6" y1="535.3" x2="382.6" y2="535.3" stroke="#111" stroke-width="1.1"/>
<text x="376.6" y="538.1999999999999" font-size="8.2" text-anchor="end" font-weight="normal" fill="#111" textLength="4.5" lengthAdjust="spacingAndGlyphs" >0</text>
<line x1="379.6" y1="519.0799999999999" x2="382.6" y2="519.0799999999999" stroke="#111" stroke-width="1.1"/>
<text x="376.6" y="521.9799999999999" font-size="8.2" text-anchor="end" font-weight="normal" fill="#111" textLength="9.0" lengthAdjust="spacingAndGlyphs" >20</text>
<line x1="379.6" y1="502.85999999999996" x2="382.6" y2="502.85999999999996" stroke="#111" stroke-width="1.1"/>
<text x="376.6" y="505.75999999999993" font-size="8.2" text-anchor="end" font-weight="normal" fill="#111" textLength="9.0" lengthAdjust="spacingAndGlyphs" >40</text>
<line x1="379.6" y1="486.64" x2="382.6" y2="486.64" stroke="#111" stroke-width="1.1"/>
<text x="376.6" y="489.53999999999996" font-size="8.2" text-anchor="end" font-weight="normal" fill="#111" textLength="9.0" lengthAdjust="spacingAndGlyphs" >60</text>
<line x1="379.6" y1="470.41999999999996" x2="382.6" y2="470.41999999999996" stroke="#111" stroke-width="1.1"/>
<text x="376.6" y="473.31999999999994" font-size="8.2" text-anchor="end" font-weight="normal" fill="#111" textLength="9.0" lengthAdjust="spacingAndGlyphs" >80</text>
<line x1="379.6" y1="454.2" x2="382.6" y2="454.2" stroke="#111" stroke-width="1.1"/>
<text x="376.6" y="457.09999999999997" font-size="8.2" text-anchor="end" font-weight="normal" fill="#111" textLength="13.0" lengthAdjust="spacingAndGlyphs" >100</text>
<text x="0" y="0" font-size="10.0" text-anchor="middle" fill="#111" textLength="57.1" lengthAdjust="spacingAndGlyphs" transform="translate(356.8,493.45) rotate(-90)">Aggregation (%)</text>
<rect x="385.20" y="479.60" width="10.60" height="55.00" fill="#a50026"/>
<line x1="390.5" y1="478.1" x2="390.5" y2="480.1" stroke="#222" stroke-width="1.0"/>
<line x1="387.9" y1="478.1" x2="393.1" y2="478.1" stroke="#222" stroke-width="1.2"/>
<rect x="401.20" y="525.20" width="10.50" height="9.40" fill="#a50026"/>
<line x1="406.45" y1="523.8" x2="406.45" y2="525.7" stroke="#222" stroke-width="1.0"/>
<line x1="403.84999999999997" y1="523.8" x2="409.05" y2="523.8" stroke="#222" stroke-width="1.2"/>
<rect x="417.50" y="508.80" width="10.60" height="25.80" fill="#a50026"/>
<line x1="422.8" y1="506.3" x2="422.8" y2="509.3" stroke="#222" stroke-width="1.0"/>
<line x1="420.2" y1="506.3" x2="425.40000000000003" y2="506.3" stroke="#222" stroke-width="1.2"/>
<path d="M403.1,496.4 L403.1,494.4 L423.3,494.4 L423.3,496.4" fill="none" stroke="#222" stroke-width="1"/>
<text x="413.20000000000005" y="493.8" font-size="7.5" text-anchor="middle" font-weight="normal" fill="#111" >*</text>
<text x="0" y="0" font-size="9.2" text-anchor="end" fill="#111" textLength="17.4" lengthAdjust="spacingAndGlyphs" transform="translate(411.4,541.0) rotate(-45)">PGI<tspan font-size="6.3" dy="2.4">2</tspan></text>
<text x="0" y="0" font-size="9.2" text-anchor="end" fill="#111" textLength="43.0" lengthAdjust="spacingAndGlyphs" transform="translate(427.0,541.8) rotate(-45)">PGI<tspan font-size="6.3" dy="2.4">2</tspan><tspan dy="-2.4">/hTSP1</tspan></text>
<rect x="0" y="0" width="520" height="1" fill="#000"/>
<rect x="0" y="0" width="1" height="583" fill="#000"/>
<rect x="518.6" y="0" width="1.4" height="583" fill="#000"/>
<rect x="0" y="581.8" width="520" height="1.2" fill="#000"/>
</svg>
</body></html>
